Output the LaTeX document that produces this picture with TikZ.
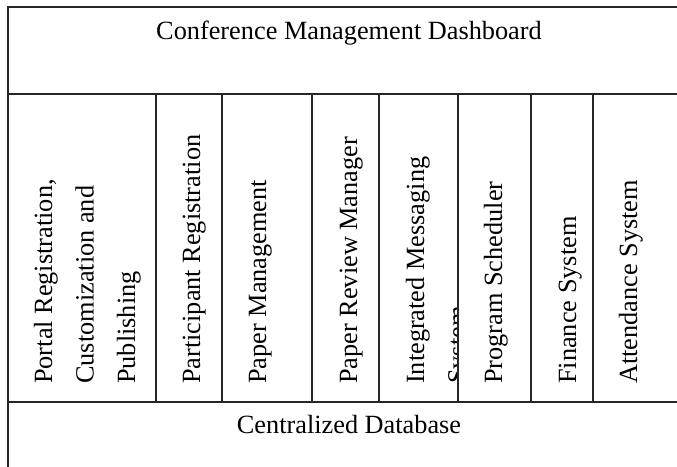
\documentclass[tikz,border=0pt]{standalone}
\usepackage{fontspec}
\setmainfont{Liberation Serif}
\begin{document}
\begin{tikzpicture}[x=1pt,y=-1pt,
  grid/.style={line width=1.3pt,draw=black!85},
  lbl/.style={inner sep=0pt,font=\fontsize{26.3}{31}\selectfont},
  vlbl/.style={lbl,rotate=90,anchor=base west}]
\useasboundingbox (0,0) rectangle (677,466);
\clip (0,0) rectangle (677,466);
% text
\node[lbl,anchor=base] (title) at (349,39) {Conference Management Dashboard};
\node[lbl,anchor=base] (db) at (349,433) {Centralized Database};
\node[vlbl] (m1a) at (52,384) {Portal Registration,};
\node[vlbl] (m1b) at (93.5,384) {Customization and};
\node[vlbl] (m1c) at (135,384) {Publishing};
\node[vlbl] (m2) at (200,384) {Participant Registration};
\node[vlbl] (m3) at (266,384) {Paper Management};
\node[vlbl] (m4) at (357,384) {Paper Review Manager};
\begin{scope}
\clip (379,94) rectangle (458,402);
\node[vlbl] (m5a) at (424,384) {Integrated Messaging};
\node[vlbl] (m5b) at (465.5,384) {System};
\end{scope}
\node[vlbl] (m6) at (502,384) {Program Scheduler};
\node[vlbl] (m7) at (576,384) {Finance System};
\node[vlbl] (m8) at (637,384) {Attendance System};
% grid
\draw[grid] (700,7) -- (8,7) -- (8,480);
\draw[grid] (8,94) -- (700,94);
\draw[grid] (8,402) -- (700,402);
\foreach \x in {156,222,312,379,458,531,593}
  \draw[grid] (\x,94) -- (\x,402);
\end{tikzpicture}
\end{document}
